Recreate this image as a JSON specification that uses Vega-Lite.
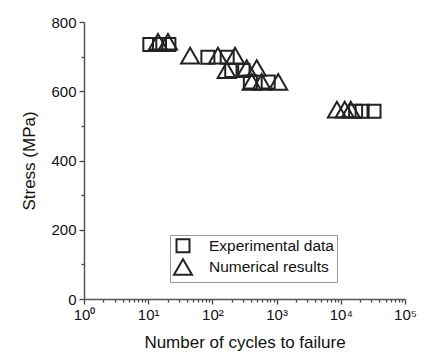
{
  "$schema": "https://vega.github.io/schema/vega-lite/v6.json",
  "width": 321,
  "height": 277,
  "autosize": {"type": "none"},
  "padding": {"left": 84, "top": 22, "right": 16, "bottom": 62},
  "background": "white",
  "config": {
    "view": {"stroke": null},
    "font": "Liberation Sans",
    "axis": {"grid": false, "domainColor": "#555", "tickColor": "#444", "labelColor": "#111", "titleColor": "#111", "labelFont": "Liberation Sans", "titleFont": "Liberation Sans", "titleFontWeight": "normal", "labelFontSize": 15, "titleFontSize": 17, "domainWidth": 1.5, "tickWidth": 1.3}
  },
  "data": {
    "values": [
      {"N": 10.6, "S": 735, "series": "Experimental data"},
      {"N": 15, "S": 735, "series": "Experimental data"},
      {"N": 21, "S": 735, "series": "Experimental data"},
      {"N": 85, "S": 698, "series": "Experimental data"},
      {"N": 170, "S": 698, "series": "Experimental data"},
      {"N": 200, "S": 660, "series": "Experimental data"},
      {"N": 300, "S": 660, "series": "Experimental data"},
      {"N": 390, "S": 627, "series": "Experimental data"},
      {"N": 740, "S": 627, "series": "Experimental data"},
      {"N": 17000, "S": 542, "series": "Experimental data"},
      {"N": 21500, "S": 542, "series": "Experimental data"},
      {"N": 32900, "S": 542, "series": "Experimental data"},
      {"N": 14.2, "S": 743, "series": "Numerical results"},
      {"N": 20.3, "S": 743, "series": "Numerical results"},
      {"N": 45, "S": 703, "series": "Numerical results"},
      {"N": 122, "S": 703, "series": "Numerical results"},
      {"N": 225, "S": 703, "series": "Numerical results"},
      {"N": 167, "S": 661, "series": "Numerical results"},
      {"N": 342, "S": 667, "series": "Numerical results"},
      {"N": 490, "S": 667, "series": "Numerical results"},
      {"N": 410, "S": 627, "series": "Numerical results"},
      {"N": 585, "S": 627, "series": "Numerical results"},
      {"N": 1060, "S": 627, "series": "Numerical results"},
      {"N": 8700, "S": 547, "series": "Numerical results"},
      {"N": 11500, "S": 547, "series": "Numerical results"},
      {"N": 14300, "S": 547, "series": "Numerical results"}
    ]
  },
  "mark": {"type": "point", "filled": false, "strokeWidth": 2, "color": "#222", "opacity": 1},
  "encoding": {
    "x": {
      "field": "N", "type": "quantitative",
      "scale": {"type": "log", "domain": [1, 100000]},
      "axis": {
        "values": [1,2,3,4,5,6,7,8,9,10,20,30,40,50,60,70,80,90,100,200,300,400,500,600,700,800,900,1000,2000,3000,4000,5000,6000,7000,8000,9000,10000,20000,30000,40000,50000,60000,70000,80000,90000,100000],
        "labelExpr": "datum.value == 1 ? '10⁰' : datum.value == 10 ? '10¹' : datum.value == 100 ? '10²' : datum.value == 1000 ? '10³' : datum.value == 10000 ? '10⁴' : datum.value == 100000 ? '10⁵' : ''",
        "title": "Number of cycles to failure",
        "tickSize": {"condition": {"test": "indexof([1,10,100,1000,10000,100000], datum.value) >= 0", "value": 5}, "value": 3},
        "labelPadding": 3,
        "titlePadding": 12,
        "labelFlush": false,
        "labelOverlap": false
      }
    },
    "y": {
      "field": "S", "type": "quantitative",
      "scale": {"domain": [0, 800], "nice": false},
      "axis": {
        "values": [0, 100, 200, 300, 400, 500, 600, 700, 800],
        "labelExpr": "datum.value % 200 == 0 ? datum.label : ''",
        "title": "Stress (MPa)",
        "tickSize": {"condition": {"test": "datum.value % 200 == 0", "value": 5}, "value": 3},
        "labelPadding": 3,
        "titlePadding": 12
      }
    },
    "shape": {
      "field": "series", "type": "nominal",
      "scale": {"domain": ["Experimental data", "Numerical results"], "range": ["square", "triangle-up"]},
      "legend": {"title": null, "orient": "none", "legendX": 86, "legendY": 213, "strokeColor": "#999", "padding": 3, "labelFontSize": 15.5, "labelFont": "Liberation Sans", "labelColor": "#111", "rowPadding": -3, "symbolStrokeWidth": 2, "symbolStrokeColor": "#222", "labelOffset": 16}
    },
    "size": {
      "field": "series", "type": "nominal",
      "scale": {"domain": ["Experimental data", "Numerical results"], "range": [169, 324]},
      "legend": {"title": null, "orient": "none", "legendX": 86, "legendY": 213, "strokeColor": "#999", "padding": 3, "labelFontSize": 15.5, "labelFont": "Liberation Sans", "labelColor": "#111", "rowPadding": -3, "symbolStrokeWidth": 2, "symbolStrokeColor": "#222", "labelOffset": 16}
    }
  }
}
